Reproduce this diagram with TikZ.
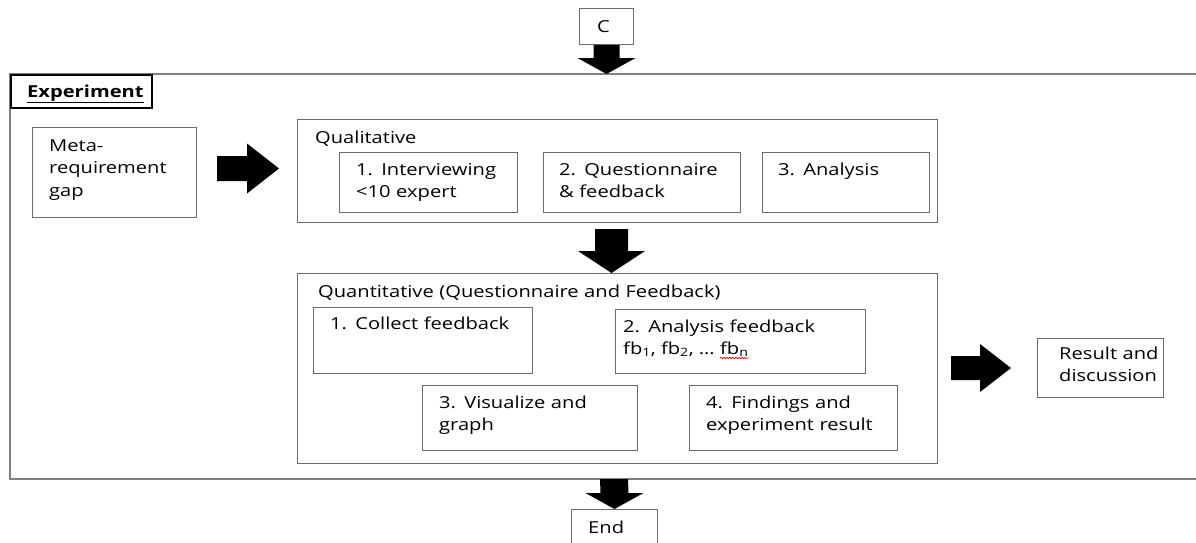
\documentclass[tikz,border=0pt]{standalone}
\usepackage{fontspec}
\setmainfont{Open Sans}[FakeStretch=1.22]
\usetikzlibrary{calc,decorations.pathmorphing}
\newcommand{\fatdown}[5]{\fill ($(#1)+(-#3,0)$) -- ($(#2)+(-#3,-#5)$) -- ($(#2)+(-#4,-#5)$) -- (#2) -- ($(#2)+(#4,-#5)$) -- ($(#2)+(#3,-#5)$) -- ($(#1)+(#3,0)$) -- cycle;}
\newcommand{\fatright}[5]{\fill ($(#1)+(0,-#3)$) -- ($(#2)+(-#5,-#3)$) -- ($(#2)+(-#5,-#4)$) -- (#2) -- ($(#2)+(-#5,#4)$) -- ($(#2)+(-#5,#3)$) -- ($(#1)+(0,#3)$) -- cycle;}
\begin{document}
\begin{tikzpicture}[x=1pt,y=-1pt,
  box/.style={draw=black!58,line width=1pt,anchor=north west,inner sep=0pt},
  txt/.style={anchor=base west,inner sep=0pt,align=left,text width=#1,
    font=\fontsize{16.5}{22.5}\selectfont},
  txt/.default=220pt,
  frameline/.style={draw=black!50,line width=1.2pt}]
\clip (0,0) rectangle (1196,542);
\fill[white] (0,0) rectangle (1196,542);

% top C box
\node[box,minimum width=54pt,minimum height=36pt] (C) at (579,8) {};
\node[txt=40pt] (Ct) at (597,32) {C};

% experiment frame (open on the right)
\draw[frameline] (1200,74) -- (10,74) -- (10,479) -- (1200,479);
\node[draw=black,line width=2pt,anchor=north west,inner sep=0pt,minimum width=141pt,minimum height=33pt] (explab) at (10,74) {};
\node[txt] (expt) at (27,97) {\textbf{\underline{Experiment}}};

% meta-requirement gap
\node[box,minimum width=164pt,minimum height=90pt] (meta) at (32,127) {};
\node[txt=160pt] (metat) at (49,151) {Meta-\\requirement\\gap};

% qualitative
\node[box,minimum width=640pt,minimum height=103pt] (qual) at (297,119) {};
\node[txt] (qualt) at (315,143) {Qualitative};
\node[box,minimum width=178pt,minimum height=60pt] (q1) at (339,152) {};
\node[txt] (q1t) at (356,175) {1. Interviewing\\<10 expert};
\node[box,minimum width=197pt,minimum height=60pt] (q2) at (543,152) {};
\node[txt] (q2t) at (559,175) {2. Questionnaire\\\& feedback};
\node[box,minimum width=167pt,minimum height=60pt] (q3) at (762,152) {};
\node[txt] (q3t) at (778,175) {3. Analysis};

% quantitative
\node[box,minimum width=640pt,minimum height=190pt] (quant) at (297,273) {};
\node[txt=500pt] (quantt) at (318,297) {Quantitative (Questionnaire and Feedback)};
\node[box,minimum width=219pt,minimum height=66pt] (n1) at (313,307) {};
\node[txt] (n1t) at (330,329) {1. Collect feedback};
\node[box,minimum width=250pt,minimum height=64pt] (n2) at (615,309) {};
\node[txt] (n2t) at (623,332) {2. Analysis feedback};
\node[inner sep=0pt,anchor=base west,font=\fontsize{16.5}{22.5}\selectfont] (fbA) at (623,354) {fb\textsubscript{1}, fb\textsubscript{2}, …};
\node[inner sep=0pt,anchor=base west,font=\fontsize{16.5}{22.5}\selectfont] (fbN) at ([xshift=5pt]fbA.base east) {fb\textsubscript{n}};
\draw[red,line width=0.6pt,decorate,decoration={snake,amplitude=0.8pt,segment length=3pt}]
  ([yshift=-4pt]fbN.base west) -- ([yshift=-4pt]fbN.base east);
\node[box,minimum width=215pt,minimum height=65pt] (n3) at (422,385) {};
\node[txt] (n3t) at (439,408) {3. Visualize and\\graph};
\node[box,minimum width=208pt,minimum height=65pt] (n4) at (689,385) {};
\node[txt] (n4t) at (706,408) {4. Findings and\\experiment result};

% result and end
\node[box,minimum width=126pt,minimum height=59pt] (res) at (1037,338) {};
\node[txt] (rest) at (1059,359) {Result and\\discussion};
\node[box,minimum width=86pt,minimum height=60pt] (End) at (571,509) {};
\node[txt] (Endt) at (588,533) {End};

% block arrows
\coordinate (a1s) at (C.south);
\coordinate (a1t) at (a1s |- 0,74);
\fatdown{a1s}{a1t}{13}{29}{16}
\coordinate (a2s) at (217,168.5);
\coordinate (a2t) at (279,168.5);
\fatright{a2s}{a2t}{12.5}{25}{32}
\coordinate (a3s) at (611.5,229);
\coordinate (a3t) at (a3s |- quant.north);
\fatdown{a3s}{a3t}{16.5}{33.5}{22}
\coordinate (a4s) at (951,368);
\coordinate (a4t) at (1011,368);
\fatright{a4s}{a4t}{12}{24}{31}
\coordinate (a5s) at (614,479);
\coordinate (a5t) at (End.north);
\fatdown{a5s}{a5t}{14}{29}{16}
\end{tikzpicture}
\end{document}
